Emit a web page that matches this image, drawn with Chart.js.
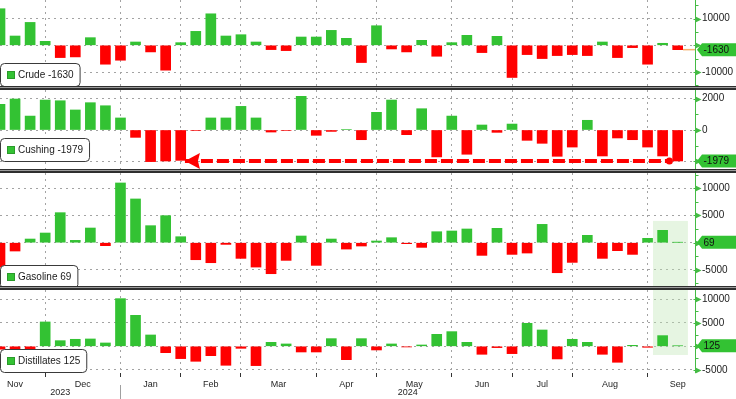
<!DOCTYPE html>
<html>
<head>
<meta charset="utf-8">
<script src="https://cdn.jsdelivr.net/npm/chart.js@4.4.1/dist/chart.umd.min.js"></script>
<style>
html,body{margin:0;padding:0;background:#fff;}
#wrap{position:relative;width:736px;height:399px;overflow:hidden;background:#fff;}
.pnl{position:absolute;left:0;width:736px;}
.sep{position:absolute;left:0;width:736px;height:4px;z-index:5;
  background:linear-gradient(#2f2f2f 0 1px,#9c9c9c 1px 2px,#2f2f2f 2px 4px);}
</style>
</head>
<body>
<div id="wrap">
  <div class="pnl" style="top:0;height:86px"><canvas id="c1"></canvas></div>
  <div class="sep" style="top:86px"></div>
  <div class="pnl" style="top:90px;height:79px"><canvas id="c2"></canvas></div>
  <div class="sep" style="top:169px"></div>
  <div class="pnl" style="top:173px;height:113px"><canvas id="c3"></canvas></div>
  <div class="sep" style="top:286px"></div>
  <div class="pnl" style="top:290px;height:109px"><canvas id="c4"></canvas></div>
</div>
<script>
// ---------------- DATA ----------------
const weeks = [
  '2023-11-10','2023-11-17','2023-11-24','2023-12-01','2023-12-08','2023-12-15','2023-12-22','2023-12-29',
  '2024-01-05','2024-01-12','2024-01-19','2024-01-26','2024-02-02','2024-02-09','2024-02-16','2024-02-23',
  '2024-03-01','2024-03-08','2024-03-15','2024-03-22','2024-03-29','2024-04-05','2024-04-12','2024-04-19',
  '2024-04-26','2024-05-03','2024-05-10','2024-05-17','2024-05-24','2024-05-31','2024-06-07','2024-06-14',
  '2024-06-21','2024-06-28','2024-07-05','2024-07-12','2024-07-19','2024-07-26','2024-08-02','2024-08-09',
  '2024-08-16','2024-08-23','2024-08-30','2024-09-06','2024-09-13','2024-09-20'
];
const monthLabels = ['Nov','Dec','Jan','Feb','Mar','Apr','May','Jun','Jul','Aug','Sep'];
const yearLabels = ['2023','2024'];

const crude = [13700, 3480, 8570, 1490, -4600, -4350, 2860, -7080, -5590, 1240, -2480, -9320, 990, 5220, 11800, 3480,
  3970, 1240, -1610, -1990, 3100, 3100, 5590, 2610, -6460, 7330, -1370, -2480, 1860, -4100, 990, 3730,
  -2730, 3350, -12050, -3480, -4970, -3850, -3480, -3850, 1240, -4600, -870, -7080, 750, -1630];
const cushing = [1640, 1980, 890, 1915, 1870, 1280, 1745, 1550, 770, -470, -2020, -1980, -1940, -30, 770, 770,
  1510, 770, -130, -30, 2150, -340, -90, 30, -620, 1130, 1915, -300, 1360, -1720, 890, -1550,
  320, -150, 380, -660, -850, -1680, -1090, 620, -1660, -510, -620, -1090, -1660, -1979];
const gasoline = [-4500, -1530, 675, 1780, 5520, 430, 2700, -550, 10980, 8040, 3130, 4970, 1100, -3130, -3680, -310,
  -2880, -4480, -5700, -3250, 1230, -4170, 675, -1170, -610, 310, 920, -180, -860, 2020, 2150, 2520,
  -2330, 2640, -2150, -1900, 3370, -5520, -3620, 1350, -2880, -1470, -2150, 800, 2270, 69];
const distillates = [-620, -570, -570, 5180, 1200, 1490, 1560, 710, 10140, 6590, 2410, -1350, -2620, -3190, -1990, -4040,
  -430, -4110, 850, 500, -1210, -1210, 1630, -2840, 1630, -780, 500, -140, 280, 2550, 3120, 850,
  -1700, -280, -1560, 4890, 3470, -2690, 1490, 850, -1700, -3400, 210, -210, 2270, 125];

const crudeTickLabels = [10000, -10000];
const crudeGridTicks = [10000, 0, -10000];
const crudeMinorTicks = [15000, 5000, -5000, -15000];
const cushingTickLabels = [2000, 0];
const cushingGridTicks = [2000, 0, -2000];
const cushingMinorTicks = [1000, -1000];
const gasolineTickLabels = [10000, 5000, -5000];
const gasolineGridTicks = [10000, 5000, 0, -5000];
const gasolineMinorTicks = [12500, 7500, 2500, -2500, -7500];
const distTickLabels = [10000, 5000, -5000];
const distGridTicks = [10000, 5000, 0, -5000];
const distMinorTicks = [7500, 2500, -2500];

// ---------------- STYLE / LAYOUT ----------------
const FONT = "'Liberation Sans', Arial, sans-serif";
Chart.defaults.font.family = FONT;
const GREEN = '#33c233', RED = '#ff0000', GRID = '#a3a3a3', AXIS = '#44bb44';
const X_MAX = 46.15;

const monthStarts = [];
weeks.forEach((w, i) => { if (i > 0 && w.slice(0, 7) !== weeks[i - 1].slice(0, 7)) monthStarts.push(i); });
const bounds = [monthStarts[0] - 4, ...monthStarts, monthStarts[monthStarts.length - 1] + 4];
const monthMids = monthLabels.map((m, i) => (bounds[i] + bounds[i + 1]) / 2);
const xTicks = [...monthStarts, ...monthMids].sort((a, b) => a - b);
const yearStartIdx = weeks.findIndex(w => w.startsWith(yearLabels[1]));

const panelPlugin = {
  id: 'panelDeco',
  beforeDatasetsDraw(chart, args, o) {
    if (!o.shade) return;
    const {ctx, chartArea: a, scales: {x, y}} = chart;
    const x0 = x.getPixelForValue(o.shade.x0), x1 = x.getPixelForValue(o.shade.x1);
    const yt = o.shade.yTop == null ? a.top : y.getPixelForValue(o.shade.yTop);
    const yb = o.shade.yBottom == null ? a.bottom : y.getPixelForValue(o.shade.yBottom);
    ctx.save();
    ctx.fillStyle = 'rgba(190,228,180,0.38)';
    ctx.fillRect(x0, yt, x1 - x0, yb - yt);
    ctx.restore();
  },
  afterDraw(chart, args, o) {
    const {ctx, chartArea: a, scales: {x, y}} = chart;
    ctx.save();
    const ax = Math.round(a.right) + 0.5;
    ctx.strokeStyle = AXIS; ctx.lineWidth = 1;
    ctx.beginPath(); ctx.moveTo(ax, a.top); ctx.lineTo(ax, a.bottom); ctx.stroke();
    ctx.fillStyle = AXIS;
    for (const t of y.ticks) {
      const py = Math.round(y.getPixelForValue(t.value)) + 0.5;
      if (o.labeled.includes(t.value) || o.grid.includes(t.value)) {
        ctx.beginPath(); ctx.moveTo(ax, py - 3); ctx.lineTo(ax + 6, py); ctx.lineTo(ax, py + 3); ctx.closePath(); ctx.fill();
        ctx.beginPath(); ctx.moveTo(ax - 2, py); ctx.lineTo(ax, py); ctx.stroke();
      } else if (o.minor.includes(t.value)) {
        ctx.beginPath(); ctx.moveTo(ax, py); ctx.lineTo(ax + 3, py); ctx.stroke();
      }
    }
    if (o.arrow) {
      const p0 = chart.getDatasetMeta(0).data[0];
      ctx.fillStyle = RED;
      ctx.beginPath();
      ctx.moveTo(p0.x, p0.y);
      ctx.lineTo(p0.x + 15, p0.y - 8);
      ctx.lineTo(p0.x + 13, p0.y);
      ctx.lineTo(p0.x + 15, p0.y + 8);
      ctx.closePath(); ctx.fill();
    }
    const txt = o.name + ' ' + o.last;
    ctx.font = '10px ' + FONT;
    const tw = ctx.measureText(txt).width;
    const bx = 0.5, by = o.legendTop + 0.5, bw = 18 + tw + 6, bh = 23;
    ctx.beginPath();
    ctx.roundRect(bx, by, bw, bh, 4);
    ctx.fillStyle = '#ffffff'; ctx.fill();
    ctx.strokeStyle = '#3a3a3a'; ctx.lineWidth = 1; ctx.stroke();
    ctx.fillStyle = GREEN; ctx.fillRect(7, by + 7.5, 8, 8);
    ctx.strokeStyle = '#2a9a2a'; ctx.strokeRect(7.5, by + 8, 7, 7);
    ctx.fillStyle = '#1a1a1a'; ctx.textAlign = 'left'; ctx.textBaseline = 'middle';
    ctx.fillText(txt, 18, by + bh / 2 + 0.5);
    const cy = y.getPixelForValue(o.last);
    ctx.fillStyle = GREEN;
    ctx.beginPath();
    ctx.moveTo(ax + 1.5, cy); ctx.lineTo(ax + 6.5, cy - 6.5); ctx.lineTo(chart.width, cy - 6.5);
    ctx.lineTo(chart.width, cy + 6.5); ctx.lineTo(ax + 6.5, cy + 6.5); ctx.closePath(); ctx.fill();
    ctx.fillStyle = '#111111';
    ctx.fillText(String(o.last), ax + 8, cy + 0.5);
    if (o.years) {
      const xs = [(x.min + yearStartIdx) / 2, (yearStartIdx + x.max) / 2];
      ctx.font = '9px ' + FONT; ctx.textAlign = 'center'; ctx.fillStyle = '#1e1e1e';
      yearLabels.forEach((yl, i) => ctx.fillText(yl, x.getPixelForValue(xs[i]), a.bottom + 20));
      const sx = Math.round(x.getPixelForValue(yearStartIdx)) + 0.5;
      ctx.strokeStyle = '#a0a0a0';
      ctx.beginPath(); ctx.moveTo(sx, a.bottom + 12); ctx.lineTo(sx, chart.height); ctx.stroke();
    }
    ctx.restore();
  }
};

function xScale(showX) {
  return {
    type: 'linear', min: 0, max: X_MAX, offset: false,
    afterBuildTicks: s => { s.ticks = xTicks.map(v => ({value: v})); },
    afterFit: s => { s.height = showX ? 26 : 0; s.paddingLeft = 0; s.paddingRight = 0; s.paddingTop = 0; s.paddingBottom = 0; },
    grid: {
      offset: false, drawTicks: showX, tickLength: 4, lineWidth: 1,
      color: c => (c.tick && monthStarts.includes(c.tick.value)) ? GRID : 'rgba(0,0,0,0)',
      tickColor: c => (c.tick && monthStarts.includes(c.tick.value)) ? '#333333' : 'rgba(0,0,0,0)'
    },
    border: {display: false, dash: [2, 4]},
    ticks: {
      display: showX, autoSkip: false, maxRotation: 0, minRotation: 0, padding: 2,
      color: '#1e1e1e', font: {size: 9},
      callback: v => { const i = monthMids.indexOf(v); return i >= 0 ? monthLabels[i] : ''; }
    }
  };
}

function buildPanel(id, p) {
  const last = p.values[p.values.length - 1];
  const allTicks = [...new Set([...p.grid, ...p.labeled, ...p.minor])].sort((a, b) => a - b);
  const datasets = [{
    type: 'bar', order: 2,
    data: p.values.map((v, i) => ({x: i, y: v})),
    backgroundColor: c => (c.raw && c.raw.y < 0) ? RED : GREEN,
    borderWidth: 0, barThickness: 10, clip: 0
  }];
  if (p.extra) datasets.unshift(...p.extra(last));
  return new Chart(document.getElementById(id), {
    type: 'bar',
    data: {datasets},
    options: {
      responsive: true, maintainAspectRatio: false, animation: false, events: [],
      layout: {padding: 0, autoPadding: false},
      plugins: {
        legend: {display: false}, tooltip: {enabled: false},
        panelDeco: {
          name: p.name, last, labeled: p.labeled, grid: p.grid, minor: p.minor,
          legendTop: p.legendTop, shade: p.shade || null, arrow: !!p.arrow, years: !!p.showX
        }
      },
      scales: {
        x: xScale(!!p.showX),
        y: {
          position: 'right', min: p.min, max: p.max,
          afterBuildTicks: s => { s.ticks = allTicks.map(v => ({value: v})); },
          afterFit: s => { s.width = 41; s.paddingTop = 0; s.paddingBottom = 0; s.paddingLeft = 0; s.paddingRight = 0; },
          grid: {
            drawTicks: false, lineWidth: 1,
            color: c => (c.tick && p.grid.includes(c.tick.value)) ? GRID : 'rgba(0,0,0,0)'
          },
          border: {display: false, dash: [2, 4]},
          ticks: {
            padding: 7, autoSkip: false, color: '#1a1a1a', font: {size: 10},
            callback: v => p.labeled.includes(v) ? String(v) : ''
          }
        }
      }
    },
    plugins: [panelPlugin]
  });
}

const arrowFrom = 12.28, arrowTo = 44.45;
const shadeFrom = 43.36, shadeTo = 45.68;

buildPanel('c1', {
  name: 'Crude', values: crude, min: -15243, max: 16966,
  labeled: crudeTickLabels, grid: crudeGridTicks, minor: crudeMinorTicks, legendTop: 63,
  extra: last => [{
    type: 'line', order: 0, data: [{x: 45.35, y: last}, {x: X_MAX, y: last}],
    borderColor: '#f6b26e', borderWidth: 1.5, pointRadius: 0, fill: false
  }]
});
buildPanel('c2', {
  name: 'Cushing', values: cushing, min: -2492, max: 2556,
  labeled: cushingTickLabels, grid: cushingGridTicks, minor: cushingMinorTicks, legendTop: 48,
  arrow: true,
  extra: last => [{
    type: 'line', order: 0, data: [{x: arrowFrom, y: last}, {x: arrowTo, y: last}],
    borderColor: RED, borderWidth: 4, borderDash: [12, 4], fill: false,
    pointRadius: c => c.dataIndex === 1 ? 3.5 : 0, pointBackgroundColor: RED, pointBorderWidth: 0,
    clip: false
  }]
});
buildPanel('c3', {
  name: 'Gasoline', values: gasoline, min: -7960, max: 12812,
  labeled: gasolineTickLabels, grid: gasolineGridTicks, minor: gasolineMinorTicks, legendTop: 92,
  shade: {x0: shadeFrom, x1: shadeTo, yTop: 4000, yBottom: null}
});
buildPanel('c4', {
  name: 'Distillates', values: distillates, min: -5681, max: 11979,
  labeled: distTickLabels, grid: distGridTicks, minor: distMinorTicks, legendTop: 59,
  shade: {x0: shadeFrom, x1: shadeTo, yTop: null, yBottom: -1850},
  showX: true
});
</script>
</body>
</html>
